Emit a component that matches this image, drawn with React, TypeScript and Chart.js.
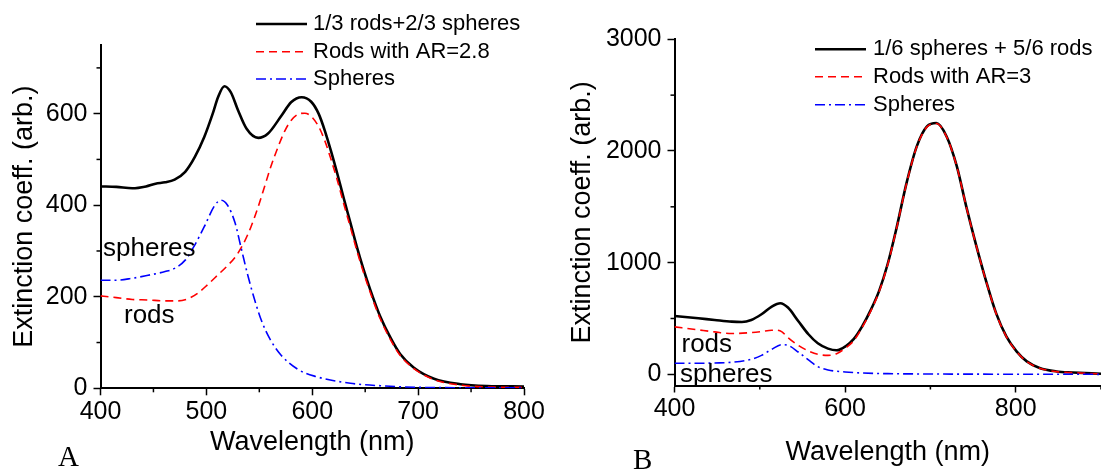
import React, { useEffect, useRef } from "react";
import { Chart, registerables } from "chart.js";

Chart.register(...registerables);

// ---------------- Panel A data ----------------
const aMixNm = [400, 415, 430, 443, 452, 461, 470, 480, 489, 498, 506, 511, 517, 523, 530, 538, 549, 558, 571, 580, 590, 599, 606, 612, 618, 624, 630, 636, 642, 648, 655, 664, 674, 683, 696, 715, 740, 765, 800];
const aMixVal = [441, 440, 437, 441, 447, 450, 456, 473, 505, 549, 600, 636, 660, 647, 607, 567, 547, 556, 596, 625, 636, 626, 600, 562, 516, 466, 413, 362, 310, 263, 214, 158, 110, 75, 45, 21, 9, 5, 4];
const aRodsNm = [400, 415, 430, 445, 461, 473, 483, 492, 501, 511, 520, 528, 535, 542, 549, 555, 561, 568, 574, 580, 587, 593, 599, 606, 612, 618, 624, 630, 636, 642, 648, 655, 664, 674, 683, 696, 715, 740, 765, 800];
const aRodsVal = [202, 198, 194, 193, 191, 191, 196, 208, 226, 248, 268, 289, 316, 352, 397, 441, 485, 529, 562, 585, 599, 601, 594, 572, 540, 498, 452, 401, 352, 302, 256, 208, 153, 106, 72, 43, 19, 7, 3, 2];
const aSpheresNm = [400, 414, 429, 445, 461, 470, 480, 489, 498, 508, 514, 520, 527, 533, 539, 546, 552, 560, 570, 586, 603, 636, 669, 702, 800];
const aSpheresVal = [236, 236, 240, 247, 255, 262, 280, 313, 353, 400, 411, 400, 362, 305, 248, 190, 148, 108, 74, 42, 26, 11, 5, 2, 1];
const aXTicks = [400, 500, 600, 700, 800];
const aXMinor = [450, 550, 650, 750];
const aYTicks = [0, 200, 400, 600];
const aYMinor = [100, 300, 500, 700];
const aLegend = ["1/3 rods+2/3 spheres", "Rods with AR=2.8", "Spheres"];

// ---------------- Panel B data ----------------
const bMixNm = [400, 428, 447, 467, 479, 490, 502, 514, 524, 533, 545, 557, 568, 580, 590, 601, 610, 620, 630, 640, 650, 660, 672, 684, 696, 707, 719, 731, 742, 754, 766, 777, 789, 801, 813, 828, 848, 867, 900];
const bMixVal = [523, 502, 487, 472, 469, 487, 538, 607, 637, 598, 478, 359, 278, 230, 215, 254, 315, 430, 575, 750, 990, 1300, 1712, 2041, 2220, 2250, 2130, 1862, 1504, 1146, 817, 548, 340, 206, 116, 57, 26, 17, 5];
const bRodsNm = [400, 428, 447, 467, 490, 502, 514, 520, 526, 533, 545, 557, 568, 580, 590, 601, 610, 620, 630, 640, 650, 660, 672, 684, 696, 707, 719, 731, 742, 754, 766, 777, 789, 801, 813, 828, 848, 867, 900];
const bRodsVal = [425, 398, 380, 365, 374, 383, 395, 395, 380, 329, 260, 209, 179, 170, 185, 239, 300, 420, 565, 742, 984, 1295, 1708, 2037, 2216, 2246, 2127, 1859, 1502, 1144, 815, 546, 338, 204, 114, 55, 24, 15, 4];
const bSpheresNm = [400, 428, 447, 467, 490, 502, 514, 526, 533, 545, 557, 568, 580, 600, 620, 650, 700, 800, 900];
const bSpheresVal = [99, 99, 102, 108, 135, 170, 224, 266, 260, 200, 129, 69, 39, 21, 12, 6, 3, 1, 0];
const bXTicks = [400, 600, 800];
const bXMinor = [500, 700, 900];
const bYTicks = [0, 1000, 2000, 3000];
const bYMinor = [500, 1500, 2500];
const bLegend = ["1/6 spheres + 5/6 rods", "Rods with AR=3", "Spheres"];

const xTitle = "Wavelength (nm)";
const yTitle = "Extinction coeff. (arb.)";

const SANS = "'Liberation Sans', Arial, Helvetica, sans-serif";
const SERIF = "'Liberation Serif', 'Times New Roman', serif";
const H = 469;

type Note = { text: string; x: number; y: number; font: string };
type PanelCfg = {
  left: number;
  width: number;
  nm: number[][];
  val: number[][];
  labels: string[];
  xMin: number;
  xMax: number;
  yMin: number;
  yMax: number;
  xTicks: number[];
  xMinor: number[];
  yTicks: number[];
  yMinor: number[];
  area: { left: number; top: number; right: number; bottom: number };
  xTitlePad: number;
  yTitlePad: number;
  legend: { x0: number; x1: number; tx: number; rows: number[] };
  notes: Note[];
};

const STYLES = [
  { color: "#000000", width: 2.6, dash: [] as number[], order: 3 },
  { color: "#ff0000", width: 1.6, dash: [8, 5], order: 2 },
  { color: "#0000ff", width: 1.6, dash: [10, 4, 2, 4], order: 1 },
];

function Panel({ cfg }: { cfg: PanelCfg }) {
  const ref = useRef<HTMLCanvasElement | null>(null);
  useEffect(() => {
    const canvas = ref.current;
    if (!canvas) return;
    const overlay = {
      id: "overlay",
      afterDraw(chart: any) {
        const ctx = chart.ctx as CanvasRenderingContext2D;
        const xs = chart.scales.x;
        const ys = chart.scales.y;
        const ca = chart.chartArea;
        ctx.save();
        ctx.strokeStyle = "#000";
        ctx.lineWidth = 1.5;
        ctx.setLineDash([]);
        for (const v of cfg.xMinor) {
          const p = xs.getPixelForValue(v);
          ctx.beginPath();
          ctx.moveTo(p, ca.bottom);
          ctx.lineTo(p, ca.bottom + 4);
          ctx.stroke();
        }
        for (const v of cfg.yMinor) {
          const p = ys.getPixelForValue(v);
          ctx.beginPath();
          ctx.moveTo(ca.left - 4, p);
          ctx.lineTo(ca.left, p);
          ctx.stroke();
        }
        // legend
        ctx.font = `22px ${SANS}`;
        ctx.textBaseline = "middle";
        ctx.textAlign = "left";
        ctx.fillStyle = "#000";
        chart.data.datasets.forEach((ds: any, i: number) => {
          const y = cfg.legend.rows[i];
          ctx.strokeStyle = ds.borderColor;
          ctx.lineWidth = ds.borderWidth;
          ctx.setLineDash(ds.borderDash || []);
          ctx.beginPath();
          ctx.moveTo(cfg.legend.x0, y);
          ctx.lineTo(cfg.legend.x1, y);
          ctx.stroke();
          ctx.setLineDash([]);
          ctx.fillText(ds.label, cfg.legend.tx, y);
        });
        // notes
        ctx.textBaseline = "alphabetic";
        for (const n of cfg.notes) {
          ctx.font = n.font;
          ctx.fillText(n.text, n.x, n.y);
        }
        ctx.restore();
      },
    };

    const tickFont = { family: SANS, size: 25 };
    const titleFont = { family: SANS, size: 27 };
    const chart = new Chart(canvas, {
      type: "line",
      data: {
        datasets: cfg.labels.map((label, i) => ({
          label,
          data: cfg.nm[i].map((x, j) => ({ x, y: cfg.val[i][j] })),
          borderColor: STYLES[i].color,
          borderWidth: STYLES[i].width,
          borderDash: STYLES[i].dash,
          order: STYLES[i].order,
          pointRadius: 0,
          fill: false,
          cubicInterpolationMode: "monotone",
        })),
      },
      options: {
        responsive: false,
        animation: false,
        events: [],
        layout: {
          padding: { left: 0, top: cfg.area.top, right: cfg.width - cfg.area.right, bottom: 0 },
        },
        plugins: { legend: { display: false }, tooltip: { enabled: false } },
        scales: {
          x: {
            type: "linear",
            min: cfg.xMin,
            max: cfg.xMax,
            afterBuildTicks: (s: any) => {
              s.ticks = cfg.xTicks.map((value) => ({ value }));
            },
            afterFit: (s: any) => {
              s.height = H - cfg.area.bottom;
            },
            grid: { display: true, drawOnChartArea: false, drawTicks: true, tickLength: 7, tickWidth: 1.5, tickColor: "#000" },
            border: { display: true, color: "#000", width: 2 },
            ticks: { font: tickFont, color: "#000", padding: 2, maxRotation: 0, autoSkip: false, callback: (v: any) => String(v) },
            title: { display: true, text: xTitle, font: titleFont, color: "#000", padding: { top: 0, bottom: cfg.xTitlePad } },
          },
          y: {
            type: "linear",
            min: cfg.yMin,
            max: cfg.yMax,
            afterBuildTicks: (s: any) => {
              s.ticks = cfg.yTicks.map((value) => ({ value }));
            },
            afterFit: (s: any) => {
              s.width = cfg.area.left;
            },
            grid: { display: true, drawOnChartArea: false, drawTicks: true, tickLength: 7, tickWidth: 1.5, tickColor: "#000" },
            border: { display: true, color: "#000", width: 2 },
            ticks: { font: tickFont, color: "#000", padding: 6, autoSkip: false, callback: (v: any) => String(v) },
            title: { display: true, text: yTitle, font: titleFont, color: "#000", padding: { top: cfg.yTitlePad, bottom: 0 } },
          },
        },
      },
      plugins: [overlay],
    } as any);
    return () => chart.destroy();
  }, [cfg]);
  return (
    <canvas
      ref={ref}
      width={cfg.width}
      height={H}
      style={{ position: "absolute", left: cfg.left, top: 0, width: cfg.width, height: H }}
    />
  );
}

const panelA: PanelCfg = {
  left: 0,
  width: 550,
  nm: [aMixNm, aRodsNm, aSpheresNm],
  val: [aMixVal, aRodsVal, aSpheresVal],
  labels: aLegend,
  xMin: 400,
  xMax: 800,
  yMin: 0,
  yMax: 750,
  xTicks: aXTicks,
  xMinor: aXMinor,
  yTicks: aYTicks,
  yMinor: aYMinor,
  area: { left: 100.5, top: 45, right: 524, bottom: 388.3 },
  xTitlePad: 10,
  yTitlePad: 8,
  legend: { x0: 256, x1: 307, tx: 313, rows: [24, 51.7, 79] },
  notes: [
    { text: "spheres", x: 103, y: 256, font: `26px ${SANS}` },
    { text: "rods", x: 124, y: 323, font: `26px ${SANS}` },
    { text: "A", x: 58, y: 466, font: `29px ${SERIF}` },
  ],
};

const panelB: PanelCfg = {
  left: 550,
  width: 551,
  nm: [bMixNm, bRodsNm, bSpheresNm],
  val: [bMixVal, bRodsVal, bSpheresVal],
  labels: bLegend,
  xMin: 400,
  xMax: 900,
  yMin: -100,
  yMax: 3000,
  xTicks: bXTicks,
  xMinor: bXMinor,
  yTicks: bYTicks,
  yMinor: bYMinor,
  area: { left: 124.5, top: 39.3, right: 551, bottom: 385.5 },
  xTitlePad: 0,
  yTitlePad: 16,
  legend: { x0: 265, x1: 316, tx: 323, rows: [49.3, 76.7, 104.7] },
  notes: [
    { text: "rods", x: 131.5, y: 351.5, font: `26px ${SANS}` },
    { text: "spheres", x: 130, y: 382, font: `26px ${SANS}` },
    { text: "B", x: 83, y: 469, font: `29px ${SERIF}` },
  ],
};

export default function App() {
  return (
    <div style={{ position: "fixed", left: 0, top: 0, width: 1101, height: H, background: "#fff", overflow: "hidden" }}>
      <Panel cfg={panelA} />
      <Panel cfg={panelB} />
    </div>
  );
}
